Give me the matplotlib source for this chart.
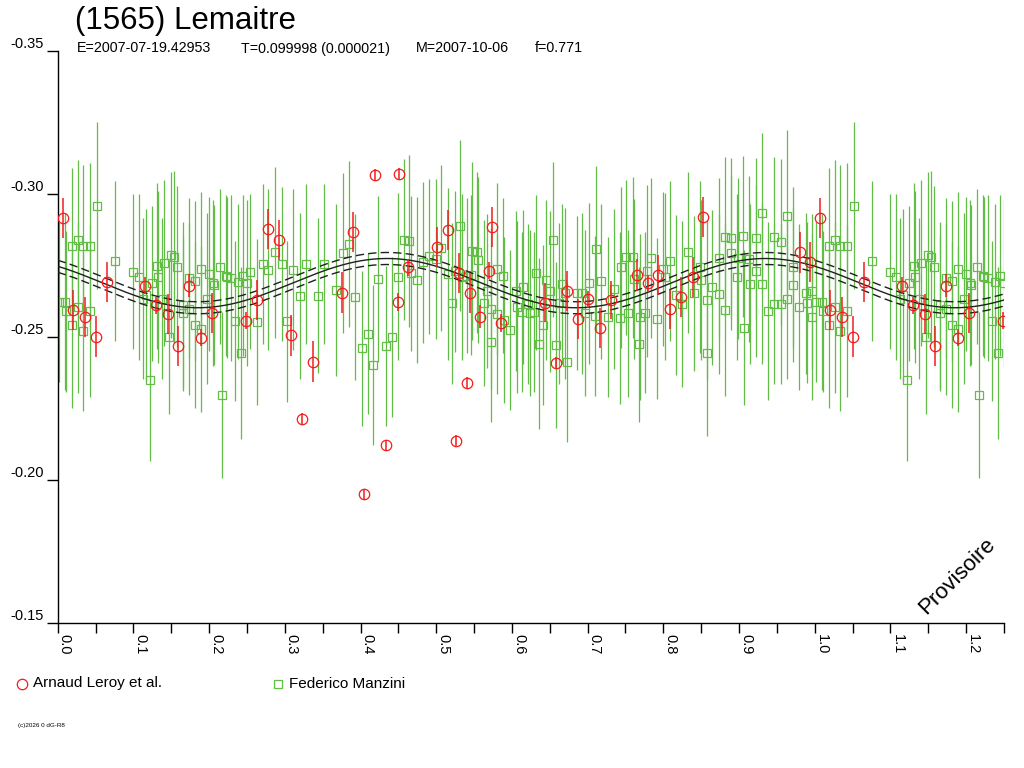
import numpy as np
import matplotlib
matplotlib.use('Agg')
import matplotlib.pyplot as plt
from matplotlib.lines import Line2D
from matplotlib.ticker import MultipleLocator, FuncFormatter

plt.rcParams['font.family'] = ['Liberation Sans', 'DejaVu Sans']

# Arnaud Leroy et al. (phase, mag, err)
leroy_phase = [0.0066, 0.0206, 0.0361, 0.0506, 0.0647, 0.1153, 0.1299, 0.1453, 0.1593, 0.1738,
               0.1893, 0.2042, 0.2487, 0.2629, 0.2782, 0.2927, 0.3078, 0.3227, 0.3369, 0.3752,
               0.3897, 0.4046, 0.4185, 0.4337, 0.4491, 0.4513, 0.4631, 0.5007, 0.5152, 0.5262,
               0.5301, 0.5407, 0.5447, 0.5579, 0.5701, 0.5741, 0.5856, 0.6437, 0.6579, 0.6732,
               0.6877, 0.7009, 0.7164, 0.7309, 0.7649, 0.7794, 0.7934, 0.8089, 0.8234, 0.8388,
               0.8528, 0.9806, 0.9938]
leroy_mag = [-0.2915, -0.2594, -0.2571, -0.2501, -0.2693, -0.2679, -0.2611, -0.2580, -0.2468, -0.2679,
             -0.2498, -0.2583, -0.2557, -0.2629, -0.2877, -0.2839, -0.2506, -0.2215, -0.2413, -0.2655,
             -0.2865, -0.1950, -0.3066, -0.2121, -0.2622, -0.3070, -0.2743, -0.2815, -0.2875, -0.2138,
             -0.2722, -0.2339, -0.2655, -0.2571, -0.2731, -0.2883, -0.2549, -0.2620, -0.2410, -0.2661,
             -0.2562, -0.2632, -0.2530, -0.2629, -0.2717, -0.2688, -0.2717, -0.2597, -0.2638, -0.2708,
             -0.2918, -0.2795, -0.2761]
leroy_err = [0.0070, 0.0070, 0.0070, 0.0072, 0.0070, 0.0030, 0.0030, 0.0070, 0.0070, 0.0040,
             0.0030, 0.0070, 0.0030, 0.0070, 0.0070, 0.0070, 0.0072, 0.0020, 0.0072, 0.0072,
             0.0070, 0.0020, 0.0020, 0.0020, 0.0030, 0.0020, 0.0030, 0.0070, 0.0070, 0.0020,
             0.0070, 0.0020, 0.0070, 0.0040, 0.0030, 0.0070, 0.0030, 0.0067, 0.0020, 0.0070,
             0.0070, 0.0030, 0.0070, 0.0067, 0.0055, 0.0030, 0.0070, 0.0070, 0.0070, 0.0070,
             0.0070, 0.0070, 0.0070]

# Federico Manzini (phase, mag, err)
manzini_phase = [0.0021, 0.0096, 0.0106, 0.0185, 0.0189, 0.0264, 0.0264, 0.0338, 0.0338, 0.0427,
                 0.0427, 0.0515, 0.0757, 0.0999, 0.1078, 0.1131, 0.1166, 0.1219, 0.1250, 0.1308,
                 0.1329, 0.1382, 0.1404, 0.1470, 0.1493, 0.1540, 0.1572, 0.1651, 0.1659, 0.1734,
                 0.1734, 0.1814, 0.1814, 0.1893, 0.1893, 0.1968, 0.2003, 0.2048, 0.2069, 0.2144,
                 0.2166, 0.2219, 0.2240, 0.2289, 0.2342, 0.2378, 0.2417, 0.2452, 0.2497, 0.2540,
                 0.2629, 0.2708, 0.2782, 0.2871, 0.2959, 0.3033, 0.3112, 0.3201, 0.3276, 0.3443,
                 0.3522, 0.3676, 0.3765, 0.3848, 0.3927, 0.4016, 0.4095, 0.4169, 0.4235, 0.4337,
                 0.4420, 0.4499, 0.4579, 0.4641, 0.4663, 0.4742, 0.4822, 0.4909, 0.4993, 0.5063,
                 0.5152, 0.5205, 0.5248, 0.5314, 0.5345, 0.5403, 0.5460, 0.5477, 0.5543, 0.5556,
                 0.5632, 0.5667, 0.5724, 0.5724, 0.5799, 0.5799, 0.5886, 0.5900, 0.5975, 0.6050,
                 0.6063, 0.6129, 0.6151, 0.6217, 0.6239, 0.6296, 0.6314, 0.6362, 0.6407, 0.6450,
                 0.6503, 0.6539, 0.6579, 0.6626, 0.6658, 0.6702, 0.6732, 0.6856, 0.6922, 0.6966,
                 0.7022, 0.7098, 0.7111, 0.7177, 0.7274, 0.7349, 0.7428, 0.7441, 0.7507, 0.7538,
                 0.7596, 0.7613, 0.7679, 0.7696, 0.7758, 0.7789, 0.7838, 0.7921, 0.8000, 0.8023,
                 0.8089, 0.8168, 0.8243, 0.8322, 0.8406, 0.8485, 0.8494, 0.8573, 0.8573, 0.8647,
                 0.8736, 0.8736, 0.8815, 0.8815, 0.8890, 0.8894, 0.8970, 0.8983, 0.9049, 0.9066,
                 0.9136, 0.9145, 0.9224, 0.9224, 0.9300, 0.9304, 0.9387, 0.9458, 0.9466, 0.9551,
                 0.9555, 0.9630, 0.9630, 0.9709, 0.9709, 0.9793, 0.9881, 0.9894, 0.9960, 0.9968]
manzini_mag = [-0.2623, -0.2623, -0.2589, -0.2819, -0.2542, -0.2839, -0.2603, -0.2819, -0.2521, -0.2819,
               -0.2591, -0.2959, -0.2766, -0.2728, -0.2708, -0.2634, -0.2647, -0.2348, -0.2687, -0.2749,
               -0.2708, -0.2634, -0.2757, -0.2500, -0.2786, -0.2780, -0.2746, -0.2611, -0.2582, -0.2706,
               -0.2597, -0.2696, -0.2541, -0.2737, -0.2529, -0.2634, -0.2720, -0.2687, -0.2681, -0.2746,
               -0.2297, -0.2714, -0.2708, -0.2706, -0.2556, -0.2693, -0.2445, -0.2714, -0.2690, -0.2728,
               -0.2553, -0.2755, -0.2735, -0.2795, -0.2755, -0.2554, -0.2735, -0.2644, -0.2755, -0.2644,
               -0.2755, -0.2664, -0.2793, -0.2825, -0.2641, -0.2460, -0.2512, -0.2402, -0.2702, -0.2468,
               -0.2500, -0.2711, -0.2840, -0.2836, -0.2722, -0.2700, -0.2760, -0.2781, -0.2772, -0.2811,
               -0.2720, -0.2617, -0.2729, -0.2889, -0.2708, -0.2714, -0.2716, -0.2801, -0.2795, -0.2770,
               -0.2617, -0.2661, -0.2599, -0.2484, -0.2736, -0.2580, -0.2714, -0.2560, -0.2525, -0.2661,
               -0.2605, -0.2588, -0.2675, -0.2615, -0.2585, -0.2588, -0.2725, -0.2477, -0.2542, -0.2700,
               -0.2659, -0.2840, -0.2472, -0.2617, -0.2685, -0.2652, -0.2413, -0.2653, -0.2652, -0.2585,
               -0.2687, -0.2574, -0.2807, -0.2694, -0.2570, -0.2667, -0.2566, -0.2743, -0.2778, -0.2582,
               -0.2778, -0.2702, -0.2474, -0.2571, -0.2585, -0.2731, -0.2776, -0.2564, -0.2737, -0.2711,
               -0.2766, -0.2647, -0.2615, -0.2795, -0.2652, -0.2743, -0.2699, -0.2629, -0.2443, -0.2673,
               -0.2650, -0.2774, -0.2850, -0.2594, -0.2793, -0.2844, -0.2710, -0.2774, -0.2851, -0.2533,
               -0.2772, -0.2685, -0.2844, -0.2731, -0.2932, -0.2685, -0.2591, -0.2850, -0.2615, -0.2830,
               -0.2615, -0.2632, -0.2922, -0.2743, -0.2681, -0.2603, -0.2652, -0.2620, -0.2659, -0.2571]
manzini_err = [0.028, 0.031, 0.028, 0.027, 0.029, 0.028, 0.030, 0.028, 0.028, 0.029,
               0.030, 0.029, 0.028, 0.027, 0.029, 0.028, 0.030, 0.028, 0.027, 0.029,
               0.030, 0.028, 0.029, 0.027, 0.029, 0.030, 0.028, 0.029, 0.027, 0.028,
               0.030, 0.028, 0.029, 0.027, 0.029, 0.030, 0.027, 0.029, 0.028, 0.027,
               0.029, 0.028, 0.028, 0.029, 0.028, 0.027, 0.030, 0.028, 0.029, 0.027,
               0.029, 0.028, 0.028, 0.030, 0.027, 0.028, 0.028, 0.029, 0.028, 0.027,
               0.028, 0.030, 0.028, 0.029, 0.029, 0.027, 0.028, 0.028, 0.029, 0.028,
               0.028, 0.029, 0.028, 0.030, 0.027, 0.029, 0.028, 0.027, 0.028, 0.029,
               0.030, 0.028, 0.028, 0.030, 0.029, 0.027, 0.028, 0.031, 0.028, 0.029,
               0.029, 0.027, 0.028, 0.028, 0.030, 0.028, 0.027, 0.029, 0.028, 0.028,
               0.030, 0.028, 0.027, 0.028, 0.029, 0.028, 0.027, 0.030, 0.028, 0.028,
               0.028, 0.027, 0.029, 0.028, 0.028, 0.030, 0.028, 0.027, 0.028, 0.029,
               0.028, 0.028, 0.029, 0.027, 0.028, 0.028, 0.030, 0.028, 0.027, 0.029,
               0.028, 0.028, 0.027, 0.029, 0.028, 0.030, 0.028, 0.028, 0.027, 0.029,
               0.028, 0.028, 0.029, 0.028, 0.027, 0.030, 0.028, 0.028, 0.029, 0.027,
               0.028, 0.028, 0.028, 0.030, 0.027, 0.028, 0.029, 0.028, 0.028, 0.027,
               0.029, 0.028, 0.028, 0.030, 0.028, 0.028, 0.031, 0.028, 0.028, 0.029,
               0.028, 0.028, 0.030, 0.028, 0.027, 0.029, 0.028, 0.028, 0.027, 0.029]

# Fourier fit (2nd harmonic) and its uncertainty
fit_mean = -0.2688
fit_amp = 0.0086
fit_max_phase = 0.435
fit_sigma = 0.0021

x_ticks = [0.0, 0.1, 0.2, 0.3, 0.4, 0.5, 0.6, 0.7, 0.8, 0.9, 1.0, 1.1, 1.2]
y_ticks = [-0.35, -0.30, -0.25, -0.20, -0.15]

RED = '#F21C1C'
GREEN = '#62BD47'


def extend(ph, mag, err):
    # phases 0..0.25 are shown again after 1.0
    ph, mag, err = np.asarray(ph), np.asarray(mag), np.asarray(err)
    m = ph <= 0.25
    return (np.concatenate([ph, ph[m] + 1.0]),
            np.concatenate([mag, mag[m]]),
            np.concatenate([err, err[m]]))


fig = plt.figure(figsize=(10.24, 7.68), dpi=100)
W, H = 1024.0, 768.0
x0, x1, ytop, ybot = 57.7, 1004.0, 50.6, 623.3
ax = fig.add_axes([x0 / W, 1 - ybot / H, (x1 - x0) / W, (ybot - ytop) / H])

gp, gm, ge = extend(manzini_phase, manzini_mag, manzini_err)
ax.errorbar(gp, gm, yerr=ge, fmt='s', ms=5.5, mfc='none', mec=GREEN, mew=0.9,
            ecolor=GREEN, elinewidth=0.9, capsize=0, zorder=2)

xx = np.linspace(0, 1.25, 600)
curve = fit_mean - fit_amp * np.cos(4 * np.pi * (xx - fit_max_phase))
ax.plot(xx, curve, color='#202020', lw=1.0, zorder=3)
ax.plot(xx, curve - fit_sigma, color='#202020', lw=1.0, dashes=(6, 3), zorder=3)
ax.plot(xx, curve + fit_sigma, color='#202020', lw=1.0, dashes=(6, 3), zorder=3)

rp, rm, re = extend(leroy_phase, leroy_mag, leroy_err)
ax.errorbar(rp, rm, yerr=re, fmt='o', ms=7.5, mfc='none', mec=RED, mew=0.9,
            ecolor=RED, elinewidth=1.1, capsize=0, zorder=4)

ax.set_xlim(0, 1.25)
ax.set_ylim(-0.15, -0.35)
for s in ('top', 'right'):
    ax.spines[s].set_visible(False)
for s in ('left', 'bottom'):
    ax.spines[s].set_linewidth(1.0)
    ax.spines[s].set_color('black')

ax.set_xticks(x_ticks)
ax.xaxis.set_minor_locator(MultipleLocator(0.05))
ax.xaxis.set_major_formatter(FuncFormatter(lambda v, p: '%.1f' % v))
ax.set_yticks(y_ticks)
ax.yaxis.set_major_formatter(FuncFormatter(lambda v, p: '%.2f' % v))
ax.tick_params(axis='x', which='both', direction='out', length=7, width=1, pad=0.5,
               labelsize=10.5, labelrotation=-90)
ax.tick_params(axis='y', direction='out', length=8, width=1, pad=2, labelsize=10.5)
for lab in ax.get_xticklabels():
    lab.set_horizontalalignment('left')
    lab.set_verticalalignment('top')
for lab in ax.get_yticklabels():
    lab.set_verticalalignment('bottom')

fig.text(75 / W, 1 - 6 / H, '(1565) Lemaitre', fontsize=22.5, va='top', ha='left')
sub_y = 1 - 41.5 / H
fig.text(77 / W, sub_y, 'E=2007-07-19.42953', fontsize=10.3, va='top')
fig.text(241 / W, sub_y, 'T=0.099998 (0.000021)', fontsize=10.3, va='top')
fig.text(416 / W, sub_y, 'M=2007-10-06', fontsize=10.3, va='top')
fig.text(535 / W, sub_y, 'f=0.771', fontsize=10.3, va='top')

# legend
leg_y = 1 - 683.5 / H
fig.add_artist(Line2D([22 / W], [leg_y], marker='o', ms=7.5, mfc='none', mec=RED, mew=0.9,
                      transform=fig.transFigure))
fig.text(33 / W, leg_y, 'Arnaud Leroy et al.', fontsize=11, va='center')
fig.add_artist(Line2D([278 / W], [leg_y], marker='s', ms=5.5, mfc='none', mec=GREEN, mew=0.9,
                      transform=fig.transFigure))
fig.text(289 / W, leg_y, 'Federico Manzini', fontsize=11, va='center')

fig.text(18 / W, 1 - 725 / H, '(c)2026 0 dG-R8', fontsize=4.5, va='center')
fig.text(957 / W, 1 - 576 / H, 'Provisoire', fontsize=16, rotation=45,
         ha='center', va='center')

fig.savefig('out.png', dpi=100)
